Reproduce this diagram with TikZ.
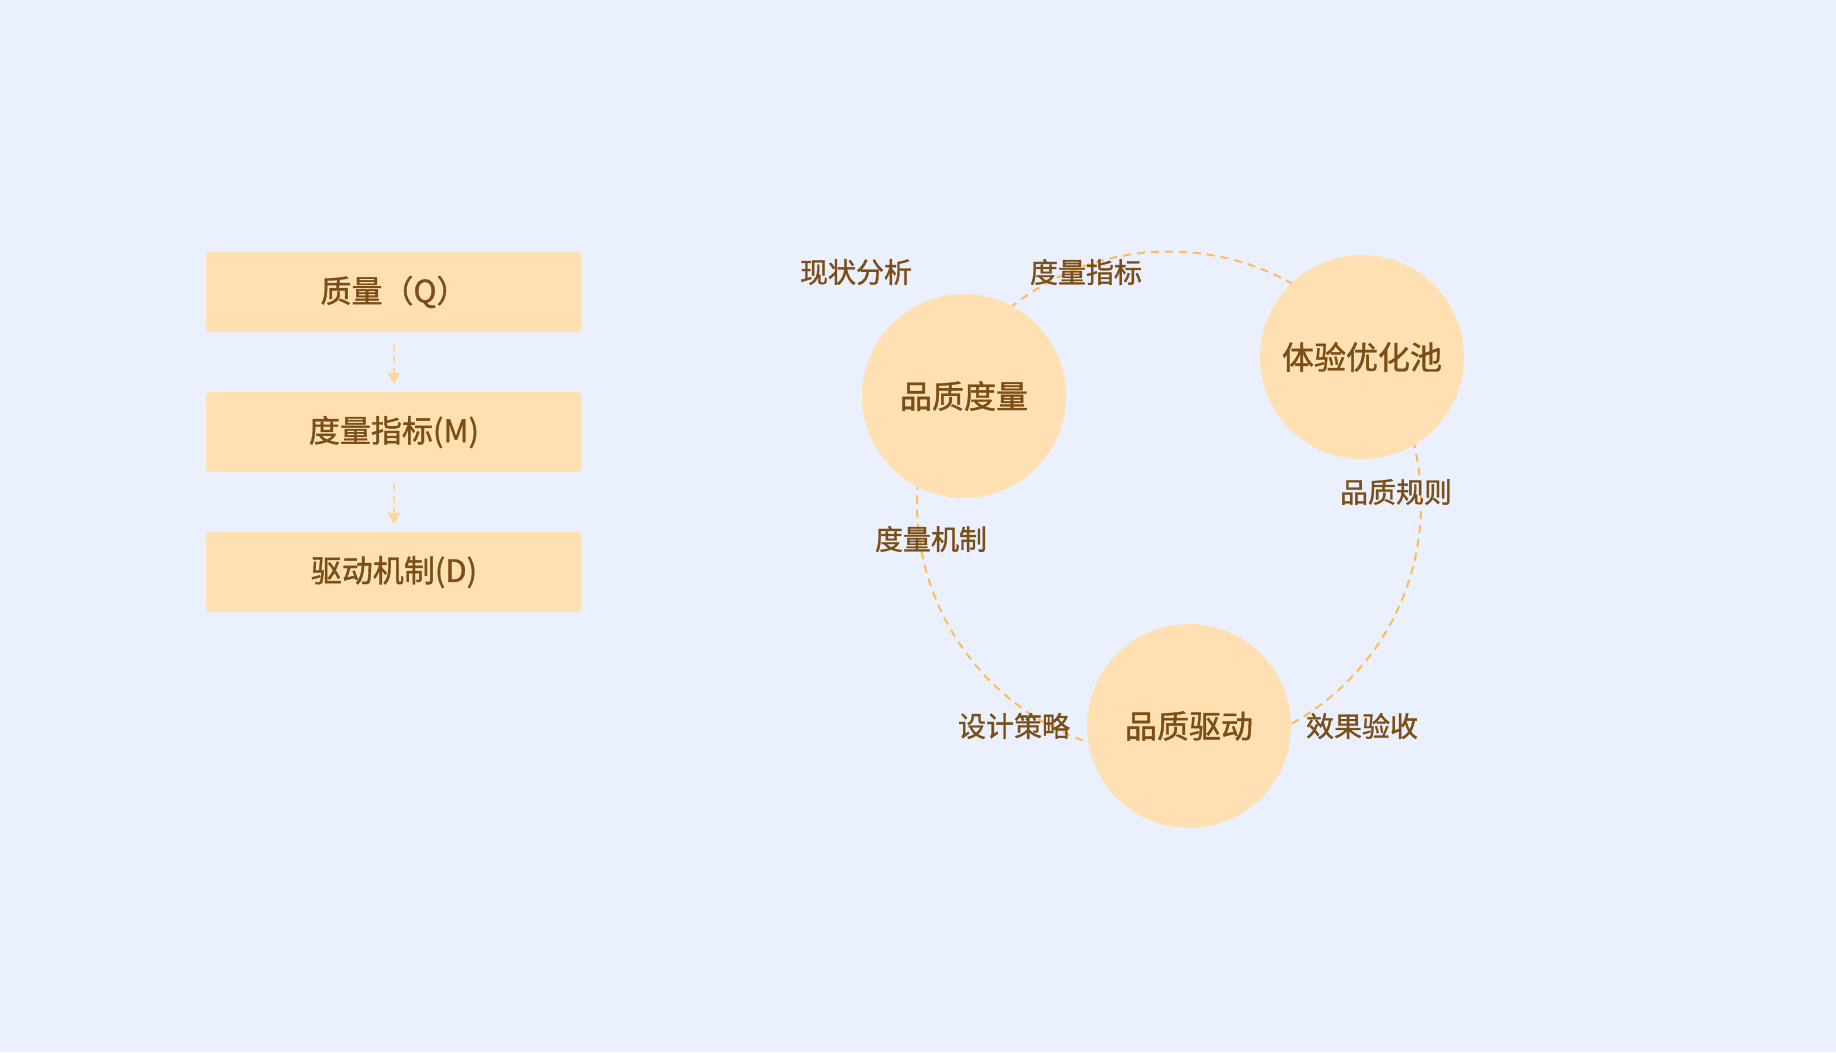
\documentclass[tikz,border=0pt]{standalone}
\usepackage{fontspec}
\setmainfont{Noto Sans CJK SC}
\newfontfamily\medfont[FakeBold=1.2]{Noto Sans CJK SC}
\usetikzlibrary{arrows.meta}
\definecolor{bgc}{HTML}{EBF0FE}
\definecolor{peach}{HTML}{FFE0B2}
\definecolor{txtc}{HTML}{7A4E17}
\definecolor{dashc}{HTML}{FFBA5A}
\definecolor{arrowc}{HTML}{FFD699}
\tikzset{
  box/.style={fill=peach, rounded corners=4pt, minimum width=376pt, minimum height=80pt, inner sep=0pt,
    text=txtc, font=\medfont\fontsize{31}{37}\selectfont},
  bubble/.style={circle, fill=peach, minimum size=204pt, inner sep=0pt,
    text=txtc, font=\medfont\fontsize{32}{38}\selectfont},
  lbl/.style={text=txtc, inner sep=0pt, font=\medfont\fontsize{28}{33}\selectfont},
  flowarrow/.style={draw=arrowc, line width=2pt, dash pattern=on 7pt off 5pt,
    -{Triangle[width=13pt,length=11pt]}, shorten <=12pt, shorten >=8pt},
  ring/.style={draw=dashc, line width=2pt, dash pattern=on 8pt off 6pt}
}
\begin{document}
\begin{tikzpicture}[x=1pt,y=-1pt]
\fill[bgc] (0,0) rectangle (1836,1052);
\useasboundingbox (0,0) rectangle (1836,1052);
% left flow
\node[box] (q) at (394,292) {质量（Q）};
\node[box] (m) at (394,432) {度量指标(M)};
\node[box] (d) at (394,572) {驱动机制(D)};
\draw[flowarrow] (q) -- (m);
\draw[flowarrow] (m) -- (d);
% ring
\coordinate (rc) at (1169,503.5);
\draw[ring] (rc) circle[radius=252pt];
\node[bubble] (pm) at (964,396) {品质度量};
\node[bubble] (ty) at (1362,357) {体验优化池};
\node[bubble] (pd) at (1189,726) {品质驱动};
% labels
\node[lbl] (l1) at (856,272) {现状分析};
\node[lbl] (l2) at (1086,272) {度量指标};
\node[lbl] (l3) at (1396,492) {品质规则};
\node[lbl] (l4) at (931,539) {度量机制};
\node[lbl] (l5) at (1014,726) {设计策略};
\node[lbl] (l6) at (1362,726) {效果验收};
\end{tikzpicture}
\end{document}
